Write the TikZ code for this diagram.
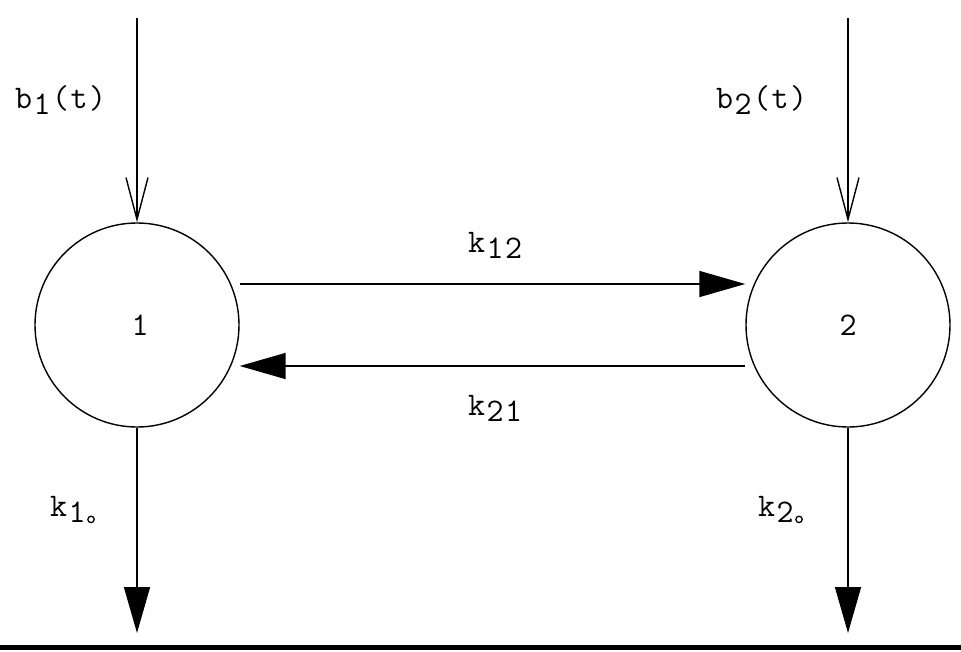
\documentclass[tikz,border=0pt]{standalone}
\usepackage{fontspec}
\usetikzlibrary{arrows.meta}
\newcommand{\lowsub}[1]{\raisebox{-6pt}{#1}}
\newcommand{\gap}{\hspace{1.5pt}}
\newcommand{\degsub}{\raisebox{-6pt}{\tikz[baseline]\draw[line width=1.3pt] (0,3.5pt) circle (3.2pt);}}
\newcommand{\labfont}{\ttfamily\fontsize{33}{36}\selectfont\addfontfeature{FakeBold=1}}
\begin{document}
\begin{tikzpicture}[x=1pt,y=-1pt,
  comp/.style={circle,draw,line width=1.4pt,minimum size=204pt,inner sep=0pt,font=\labfont},
  lbl/.style={font=\labfont,inner sep=0pt,anchor=west},
  conn/.style={line width=1.6pt},
  inarrow/.style={conn,-{Straight Barb[length=42pt,width=22pt,line width=1.4pt]}},
  flow/.style={conn,-{Triangle[length=46pt,width=26pt]}}]
\useasboundingbox (0,0) rectangle (961,651);
\fill[white] (0,0) rectangle (961,651);
\node[comp] (c1) at (137,325) {\hspace{6pt}1};
\node[comp] (c2) at (848,325) {2};
\coordinate (in1) at (137,18);
\coordinate (in2) at (848,18);
\coordinate (out1) at (137,633);
\coordinate (out2) at (848,633);
\draw[inarrow] (in1) -- (c1.north);
\draw[inarrow] (in2) -- (c2.north);
\draw[flow] (c1.south) -- (out1);
\draw[flow] (c2.south) -- (out2);
\draw[flow] (c1.east |- 0,284) -- (c2.west |- 0,284);
\draw[flow] (c2.west |- 0,366) -- (c1.east |- 0,366);
\draw[line width=5pt] (0,647.5) -- (961,647.5);
\node[lbl] (lb1) at (15,100) {b\gap\lowsub{1}\gap(\gap t\gap)};
\node[lbl] (lb2) at (716,100) {b\gap\lowsub{2}\gap(\gap t\gap)};
\node[lbl] (lk12) at (468,245) {k\gap\lowsub{1\gap 2}};
\node[lbl] (lk21) at (468,408) {k\gap\lowsub{2\gap 1}};
\node[lbl] (lk10) at (50,510) {k\gap\lowsub{1}\gap\degsub};
\node[lbl] (lk20) at (758,510) {k\gap\lowsub{2}\gap\degsub};
\end{tikzpicture}
\end{document}
